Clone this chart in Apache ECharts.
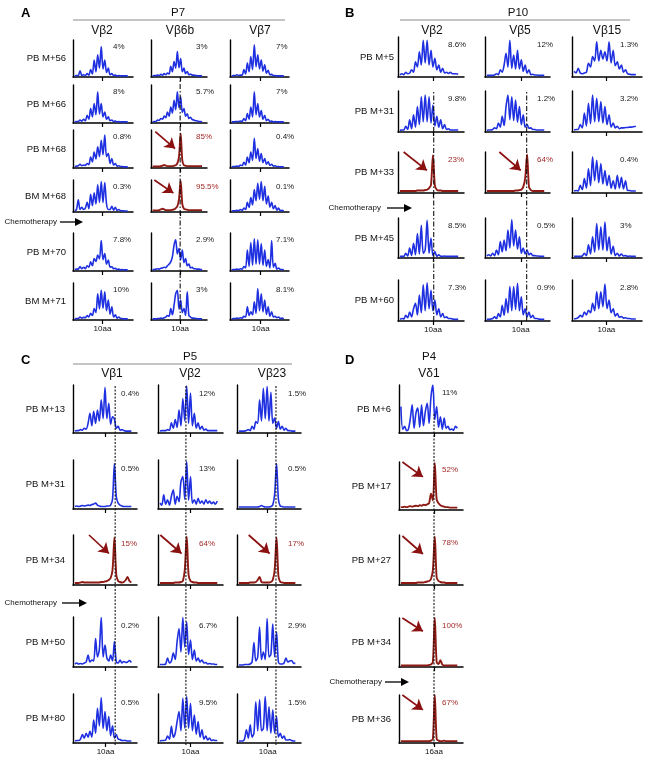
<!DOCTYPE html>
<html><head><meta charset="utf-8">
<script src="https://cdn.jsdelivr.net/npm/echarts@6/dist/echarts.min.js"></script>
<style>html,body{margin:0;padding:0;background:#fff}#c{width:658px;height:764px}</style>
</head><body><div id="c"></div>
<script>
// ---------------- DATA ----------------
// Panel A (P7)
const rowsA = ['PB M+56','PB M+66','PB M+68','BM M+68','PB M+70','BM M+71'];
const colsA = ['Vβ2','Vβ6b','Vβ7'];
const pctA = [['4%','3%','7%'],['8%','5.7%','7%'],['0.8%','85%','0.4%'],['0.3%','95.5%','0.1%'],['7.8%','2.9%','7.1%'],['10%','3%','8.1%']];
const curvesA = [
 [[3,4,4,17,4,6,4,9,5,20,8,46,14,60,24,82,22,46,12,24,6,9,4,5,3,4,3,3,3,3,3],
  [3,4,4,5,4,7,5,9,6,11,8,29,14,42,24,69,25,50,14,24,9,15,6,8,5,5,4,4,3,3,3],
  [3,4,4,6,4,5,5,20,8,38,14,55,20,87,28,60,22,46,16,33,10,18,6,7,4,4,3,3,3,3,3]],
 [[3,4,4,8,5,10,6,20,10,38,16,51,22,82,24,51,16,29,10,16,6,8,4,5,3,4,3,3,3,3,3],
  [3,4,4,8,7,12,10,18,14,29,18,42,26,60,35,82,40,69,28,38,18,24,12,15,9,8,6,6,4,4,3],
  [3,3,4,4,4,5,4,12,6,25,10,42,16,82,22,51,16,33,10,20,6,10,4,5,3,4,3,3,3,3,3]],
 [[4,5,6,10,6,8,7,12,9,29,16,42,24,56,30,73,35,87,30,38,12,25,8,12,5,6,4,4,3,3,3],
  [4,4,4,4,4,5,6,8,6,5,5,5,5,6,7,12,30,91,20,7,6,5,5,5,5,5,5,5,5,5,5],
  [3,4,4,5,4,8,6,15,8,29,14,42,20,78,25,51,18,38,14,25,10,16,7,10,5,6,4,4,3,3,3]],
 [[4,8,38,8,15,8,12,30,10,55,20,60,25,85,30,95,30,92,25,8,8,18,6,15,5,8,4,4,3,3,3],
  [5,5,5,5,6,8,10,8,6,6,6,6,7,8,12,18,40,98,25,10,8,7,6,6,6,6,6,6,6,6,6],
  [3,4,4,5,4,8,5,12,8,30,14,45,22,70,35,90,40,95,35,80,25,50,15,30,10,20,6,12,4,5,3]],
 [[4,5,5,12,6,10,6,14,10,24,14,33,25,42,32,80,30,46,18,29,10,11,6,7,4,5,3,4,3,3,3],
  [3,4,5,6,5,7,8,10,9,14,18,24,38,68,82,45,60,30,55,22,33,14,18,8,10,6,6,5,5,4,3],
  [3,4,4,5,4,6,5,12,8,55,12,75,15,85,18,82,18,72,15,55,12,30,8,80,10,20,5,8,4,4,3]],
 [[3,4,4,8,5,7,6,12,8,18,12,31,20,71,30,80,32,76,25,54,16,36,8,14,5,8,4,4,3,3,3],
  [3,3,3,4,4,5,4,6,8,12,10,31,14,40,71,80,30,54,20,31,12,76,12,8,5,5,4,4,3,3,3],
  [3,4,4,5,4,6,5,10,8,36,12,22,14,49,18,85,25,71,22,54,15,36,10,22,8,10,6,8,4,5,3]]
];
const arrowsA = [[null,null,null],[null,null,null],[null,[1.6,96,13.6,51],null],[null,[1,100,12.6,59],null],[null,null,null],[null,null,null]];
const tickA = [15.7,16.7,16.7];
const guideA = [null,16.7,null];

// Panel B (P10)
const rowsB = ['PB M+5','PB M+31','PB M+33','PB M+45','PB M+60'];
const colsB = ['Vβ2','Vβ5','Vβ15'];
const pctB = [['8.6%','12%','1.3%'],['9.8%','1.2%','3.2%'],['23%','64%','0.4%'],['8.5%','0.5%','3%'],['7.3%','0.9%','2.8%']];
const curvesB = [
 [[5,8,6,12,8,10,18,12,38,25,63,30,92,35,92,30,67,25,47,18,30,12,22,10,12,9,12,8,8,8,7],
  [4,4,4,4,5,8,6,18,12,30,59,25,92,22,55,20,67,20,43,14,30,10,18,6,7,5,5,4,4,4,4],
  [14,10,22,10,8,10,12,34,25,51,40,88,40,67,45,63,40,88,35,67,28,38,20,30,12,18,8,7,6,6,6]],
 [[4,5,5,14,6,30,8,42,12,62,18,86,25,90,25,86,22,66,15,38,12,30,8,18,6,8,5,5,5,5,5],
  [4,5,5,6,10,8,22,12,38,16,62,90,30,86,28,78,24,62,18,42,12,18,9,10,6,6,5,5,5,5,5],
  [5,6,6,18,10,46,15,70,20,90,25,82,25,74,22,62,18,42,12,22,10,14,8,10,10,11,11,12,12,13,14]],
 [[5,5,5,5,5,5,5,5,5,6,6,6,6,7,8,12,20,92,18,8,6,6,5,5,5,5,5,5,5,5,5],
  [5,5,5,5,5,5,5,5,5,5,5,5,5,5,5,6,6,7,8,15,35,94,15,7,5,5,5,5,5,5,5],
  [5,6,5,19,8,35,12,59,18,88,30,80,25,72,22,55,18,43,12,30,10,43,12,38,10,30,6,6,5,5,5]],
 [[4,4,4,12,5,25,6,37,8,61,10,82,12,20,94,12,49,6,16,4,8,4,4,5,4,4,4,4,4,4,4],
  [5,8,5,12,6,20,8,41,15,45,18,70,25,96,30,70,22,53,12,25,10,20,8,12,6,6,5,5,4,4,4],
  [4,4,4,4,5,12,6,33,10,53,15,86,20,78,20,90,18,53,10,29,6,12,5,10,5,6,4,5,4,4,4]],
 [[4,6,5,14,8,22,10,30,43,15,63,20,88,25,93,30,75,25,51,15,30,10,18,8,10,6,6,5,4,4,4],
  [4,4,5,6,10,6,18,10,38,14,55,20,84,25,84,28,92,25,59,15,30,10,22,8,14,6,6,5,4,4,4],
  [5,6,8,14,10,22,15,26,20,43,25,71,30,71,35,90,30,51,20,30,12,18,9,11,7,8,6,6,5,5,5]]
];
const arrowsB = [[null,null,null],[null,null,null],[[1.9,100,13.9,55],[6.5,100,17.7,55],null],[null,null,null],[null,null,null]];
const tickB = [17,17.7,15.7];
const guideB = [17.4,20.8,null];

// Panel C (P5)
const rowsC = ['PB M+13','PB M+31','PB M+34','PB M+50','PB M+80'];
const colsC = ['Vβ1','Vβ2','Vβ23'];
const pctC = [['0.4%','12%','1.5%'],['0.5%','13%','0.5%'],['15%','64%','17%'],['0.2%','6.7%','2.9%'],['0.5%','9.5%','1.5%']];
const curvesC = [
 [[4,5,5,7,6,10,8,20,41,15,45,20,48,25,69,30,95,30,62,18,34,29,10,14,6,7,5,4,4,4,4],
  [4,5,5,5,7,6,21,10,28,12,48,15,72,25,98,20,83,15,41,10,21,8,14,6,8,5,5,5,5,5,5],
  [4,4,4,4,5,7,5,14,8,24,20,69,25,93,30,97,25,85,20,31,10,24,8,14,6,10,5,5,4,4,4]],
 [[5,6,5,6,7,6,7,8,7,9,10,12,8,6,5,5,5,6,6,8,20,93,25,12,8,6,5,5,5,5,5],
  [12,8,29,10,19,8,26,39,10,26,15,56,66,20,97,18,66,12,19,10,22,12,16,10,19,12,16,11,14,10,16],
  [4,4,4,4,4,4,4,4,4,4,4,5,7,5,4,4,4,5,8,30,93,20,6,5,4,4,4,4,4,4,4]],
 [[4,4,4,5,6,5,5,5,5,5,5,5,5,5,6,6,7,8,10,14,30,95,20,8,6,5,6,10,16,8,5],
  [4,4,4,4,4,4,4,4,5,5,5,6,8,30,97,20,8,6,5,5,4,4,4,4,4,4,4,4,4,4,4],
  [4,4,4,4,4,4,5,5,5,6,10,16,6,5,5,5,5,6,10,30,95,18,6,5,4,4,4,4,4,4,4]],
 [[6,8,6,7,6,8,10,24,10,14,12,57,20,35,99,20,44,18,12,24,12,51,10,8,14,8,11,9,10,13,9],
  [5,5,5,6,18,8,12,28,15,51,77,30,99,40,90,25,54,15,34,12,18,10,14,8,9,6,7,6,6,5,5],
  [4,4,4,5,5,5,6,10,49,12,20,80,15,30,15,97,20,25,86,20,70,10,6,6,8,18,10,12,13,8,7]],
 [[4,5,5,8,17,10,20,12,24,12,47,20,71,35,93,30,64,25,54,15,35,10,17,8,7,5,5,5,4,4,4],
  [4,5,5,6,14,8,34,12,20,44,64,25,91,30,95,30,81,25,57,18,44,12,27,8,14,6,10,5,6,5,5],
  [4,4,4,8,27,10,37,12,20,84,25,88,25,30,95,25,74,20,68,20,54,12,20,10,14,6,6,7,5,4,4]]
];
const arrowsC = [[null,null,null],[null,null,null],[[7.5,100,18.1,63],[0.2,100,11.3,63],[5.2,100,16.3,63]],[null,null,null],[null,null,null]];
const tickC = [16.3,16,15.3];
const guideC = [21.4,13.6,19.7];

// Panel D (P4)
const rowsD = ['PB M+6','PB M+17','PB M+27','PB M+34','PB M+36'];
const colsD = ['Vδ1'];
const pctD = [['11%'],['52%'],['78%'],['100%'],['67%']];
const curvesD = [
 [[55,8,14,5,8,30,59,10,41,52,12,59,15,45,62,20,76,100,28,55,12,34,8,31,10,14,7,8,6,14,10]],
 [[6,6,7,6,7,8,7,8,9,8,10,9,11,10,12,14,34,20,98,22,14,10,8,7,6,6,5,5,5,5,5]],
 [[4,4,4,4,4,4,4,4,4,5,5,5,5,6,7,8,12,30,97,15,8,6,5,5,4,4,4,4,4,4,4]],
 [[3,3,3,3,3,3,3,3,3,3,3,3,3,3,3,4,5,10,100,10,6,14,5,3,3,3,3,3,3,3,3]],
 [[4,4,4,4,4,4,4,4,4,4,4,4,4,4,4,4,5,8,100,8,5,4,4,5,4,4,4,4,4,4,4]]
];
const arrowsD = [[null],[[0.8,100,11.7,69]],[[0.8,98,11.7,62]],[[0.8,100,11.7,73]],[[0.8,100,11.7,69]]];
const tickD = [17.6];
const guideD = [17.6];

// ---------------- LAYOUT ----------------
const FONT = '"Liberation Sans", Arial, Helvetica, sans-serif';
const BLUE = '#1f30e0', RED = '#8e1a14', ARROW = '#8b1010', REDTXT = '#a52a2a';
const panels = [
 {letter:'A', patient:'P7', rows:rowsA, cols:colsA, pct:pctA, curves:curvesA, arrows:arrowsA, ticks:tickA, guides:guideA, tickLabel:'10aa',
  L:{colLeft:[73,151,230], colWidth:[60,56,59], rowTop:[40,85,130,180,233,283], rowBottom:[77,123,168,212,271,320],
     pctX:[113,196,276], pctDy:7, rowLabelRight:66, guideTop:77, guideBottom:320, dash:[5,2,1.5,2],
     letterXY:[21,13], patientXY:[178,13], rule:[73,285,20], headerY:31, headerX:[102,180,260], chemo:[57,222,60,83]}},
 {letter:'B', patient:'P10', rows:rowsB, cols:colsB, pct:pctB, curves:curvesB, arrows:arrowsB, ticks:tickB, guides:guideB, tickLabel:'10aa',
  L:{colLeft:[398,485,572], colWidth:[66,65,70], rowTop:[37,91,152,218,280], rowBottom:[77,132,193,258,321],
     pctX:[448,537,620], pctDy:8, rowLabelRight:394, guideTop:91, guideBottom:321, dash:[5,2,1.5,2],
     letterXY:[345,13], patientXY:[518,13], rule:[400,630,20], headerY:31, headerX:[432,520,607], chemo:[381,208,387,412]}},
 {letter:'C', patient:'P5', rows:rowsC, cols:colsC, pct:pctC, curves:curvesC, arrows:arrowsC, ticks:tickC, guides:guideC, tickLabel:'10aa',
  L:{colLeft:[73,158,237], colWidth:[64,65,64], rowTop:[385,460,535,617,694], rowBottom:[433,509,585,667,743],
     pctX:[121,199,288], pctDy:9, rowLabelRight:65, guideTop:385, guideBottom:745, dash:[2,1.5],
     letterXY:[21,360], patientXY:[190,357], rule:[73,292,364], headerY:374, headerX:[112,190,272], chemo:[57,603,62,87]}},
 {letter:'D', patient:'P4', rows:rowsD, cols:colsD, pct:pctD, curves:curvesD, arrows:arrowsD, ticks:tickD, guides:guideD, tickLabel:'16aa',
  L:{colLeft:[399], colWidth:[64], rowTop:[385,462,535,618,695], rowBottom:[433,510,585,667,743],
     pctX:[442], pctDy:8, rowLabelRight:391, guideTop:413, guideBottom:745, dash:[2,1.5],
     letterXY:[345,360], patientXY:[429,357], rule:null, headerY:374, headerX:[429], chemo:[382,682,385,409]}}
];

const grid = [], xAxis = [], yAxis = [], series = [], graphic = [];
function txt(x, y, s, o) {
  o = o || {};
  graphic.push({type:'text', x:x, y:y, silent:true, z:100,
    style:{text:s, fill:o.fill || '#111', fontSize:o.size || 9, fontFamily:FONT, fontWeight:o.weight || 'normal',
      align:o.align || 'left', verticalAlign:'middle', textAlign:o.align || 'left', textVerticalAlign:'middle'}});
}
panels.forEach(function(p){
  const L = p.L, nR = p.rows.length, nC = p.cols.length;
  for (let r = 0; r < nR; r++) {
    for (let c = 0; c < nC; c++) {
      const g = grid.length;
      const top = L.rowTop[r], h = L.rowBottom[r] - top;
      grid.push({left:L.colLeft[c], top:top, width:L.colWidth[c], height:h, containLabel:false});
      const last = r === nR - 1;
      const lbl = p.tickLabel;
      xAxis.push({gridIndex:g, type:'value', min:-1, max:33,
        axisLine:{show:true, onZero:false, lineStyle:{color:'#000', width:1.5}},
        axisTick:{show:true, customValues:[p.ticks[c]], length:4, lineStyle:{color:'#000', width:1.2}},
        axisLabel:{show:last, customValues:[p.ticks[c]], formatter:function(){return lbl;}, fontSize:8, margin:5, color:'#111', fontFamily:FONT},
        splitLine:{show:false}});
      yAxis.push({gridIndex:g, type:'value', min:0, max:100,
        axisLine:{show:true, onZero:false, lineStyle:{color:'#000', width:1.4}},
        axisTick:{show:false}, axisLabel:{show:false}, splitLine:{show:false}});
      const arr = p.arrows[r][c];
      const red = !!arr;
      const s = {type:'line', xAxisIndex:g, yAxisIndex:g, silent:true, animation:false,
        data:p.curves[r][c].map(function(v,i){return [i,v];}),
        showSymbol:false, symbol:'none', smooth:0.3,
        lineStyle:{color: red ? RED : BLUE, width: red ? 1.9 : 1.6}};
      if (arr) {
        s.markLine = {silent:true, animation:false, symbol:['none','arrow'], symbolSize:10,
          label:{show:false}, lineStyle:{color:ARROW, width:1.7, type:'solid'},
          data:[[{coord:[arr[0],arr[1]]},{coord:[arr[2],arr[3]]}]]};
      }
      series.push(s);
      txt(L.pctX[c], top + L.pctDy, p.pct[r][c], {size:8, fill: red ? REDTXT : '#222'});
    }
    txt(L.rowLabelRight, (L.rowTop[r] + L.rowBottom[r]) / 2, p.rows[r], {size:9.5, align:'right'});
  }
  // guide lines spanning rows
  p.guides.forEach(function(gx, c){
    if (gx === null) return;
    const g = grid.length;
    grid.push({left:L.colLeft[c], top:L.guideTop, width:L.colWidth[c], height:L.guideBottom - L.guideTop});
    xAxis.push({gridIndex:g, type:'value', min:-1, max:33, show:false});
    yAxis.push({gridIndex:g, type:'value', min:0, max:1, show:false});
    series.push({type:'line', xAxisIndex:g, yAxisIndex:g, silent:true, animation:false, z:5,
      data:[[gx,0],[gx,1]], showSymbol:false, symbol:'none',
      lineStyle:{color:'#111', width:1.1, type:L.dash}});
  });
  // headers
  txt(L.letterXY[0], L.letterXY[1], p.letter, {size:13, weight:'bold', fill:'#000'});
  txt(L.patientXY[0], L.patientXY[1], p.patient, {size:11.5, align:'center'});
  if (L.rule) graphic.push({type:'line', silent:true, shape:{x1:L.rule[0], y1:L.rule[2], x2:L.rule[1], y2:L.rule[2]}, style:{stroke:'#8a8a8a', lineWidth:1}});
  p.cols.forEach(function(cn, c){ txt(L.headerX[c], L.headerY, cn, {size:12, align:'center'}); });
  // chemotherapy arrow
  const ch = L.chemo;
  txt(ch[0], ch[1], 'Chemotherapy', {size:8, align:'right'});
  graphic.push({type:'line', silent:true, shape:{x1:ch[2], y1:ch[1], x2:ch[3]-6, y2:ch[1]}, style:{stroke:'#000', lineWidth:1.3}});
  graphic.push({type:'polygon', silent:true, shape:{points:[[ch[3]-8,ch[1]-4],[ch[3],ch[1]],[ch[3]-8,ch[1]+4]]}, style:{fill:'#000'}});
});

const chart = echarts.init(document.getElementById('c'), null, {renderer:'canvas'});
chart.setOption({animation:false, backgroundColor:'#fff', grid:grid, xAxis:xAxis, yAxis:yAxis, series:series, graphic:graphic});
</script></body></html>
